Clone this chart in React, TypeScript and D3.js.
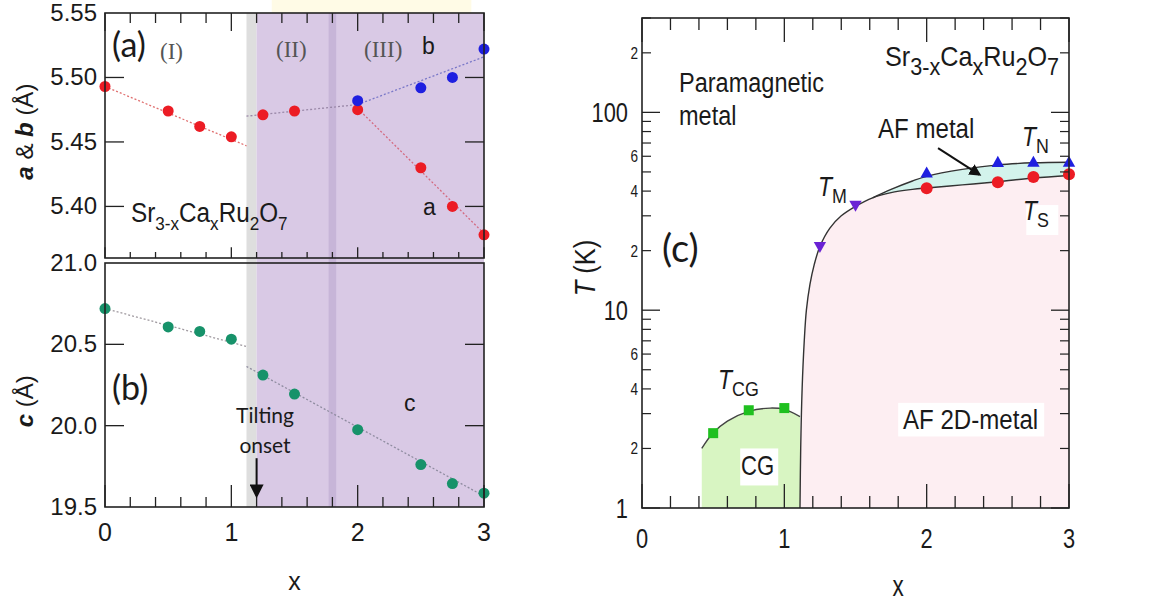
import React from "react";
import * as d3 from "d3";

const W = 1157;
const H = 605;
const SANS = "'Liberation Sans', Arial, Helvetica, sans-serif";
const CAL = "Lato, 'Open Sans', sans-serif";
const SERIF = "'Liberation Serif', 'Times New Roman', serif";

// ---- Lattice parameters of Sr3-xCaxRu2O7 ----
const xLat = [0, 0.5, 0.75, 1, 1.25, 1.5, 2, 2.5, 2.75, 3];
const aVals = [5.493, 5.474, 5.462, 5.454, 5.471, 5.474, 5.475, 5.43, 5.4, 5.378];
const xB = [2, 2.5, 2.75, 3];
const bVals = [5.482, 5.492, 5.5, 5.522];
const cVals = [20.72, 20.607, 20.579, 20.532, 20.311, 20.194, 19.975, 19.761, 19.644, 19.585];

// dotted guide lines [x, value]
const abGuideLow: [number, number][] = [[0, 5.493], [1.12, 5.447]];
const abGuideMid: [number, number][] = [[1.12, 5.47], [2, 5.479]];
const bGuide: [number, number][] = [[2, 5.479], [3, 5.516]];
const aGuide: [number, number][] = [[2, 5.476], [3, 5.379]];
const cGuideLow: [number, number][] = [[0, 20.72], [1.12, 20.487]];
const cGuideHigh: [number, number][] = [[1.12, 20.364], [3, 19.567]];

// structural regions along x
const tiltGap = [1.12, 1.2];
const tiltedRegion = [1.2, 3];
const regionBoundary = [1.77, 1.83];

// ---- Phase diagram ----
const xTN = [2, 2.5, 2.75, 3];
const tN = [49.4, 55.9, 56, 56];
const xTS = [2, 2.5, 2.75, 3];
const tS = [41.3, 44.3, 47.1, 48.6];
const xTM = [1.25, 1.5];
const tM = [21, 33.9];
const xTCG = [0.5, 0.75, 1.0];
const tCG = [2.39, 3.12, 3.2];

// phase boundaries [x, T]
const tmBoundary: [number, number][] = [
  [1.11, 1], [1.115, 2], [1.125, 4], [1.14, 7], [1.155, 10], [1.18, 13.5], [1.21, 17],
  [1.25, 21], [1.32, 26], [1.4, 30], [1.5, 33.5], [1.62, 37], [1.75, 39.3], [1.9, 40.8],
  [2, 41.5], [2.25, 43], [2.5, 44.6], [2.75, 46.6], [3, 48],
];
const tnBoundary: [number, number][] = [
  [1.62, 37], [1.75, 40.8], [1.9, 45], [2, 47.5], [2.25, 51.5], [2.5, 54.3], [2.75, 55.6], [3, 56],
];
const cgBoundary: [number, number][] = [
  [0.42, 2.0], [0.5, 2.4], [0.6, 2.75], [0.75, 3.08], [0.9, 3.2], [1.0, 3.15], [1.11, 2.9],
];

const COL_RED = "#ec1c24";
const COL_BLUE = "#1f1fe0";
const COL_TEAL = "#17926a";
const COL_GREEN = "#1fc01f";
const COL_PURPLE = "#6a22d4";

// scales, left panels
const xL = d3.scaleLinear().domain([0, 3]).range([105, 484]);
const yA = d3.scaleLinear().domain([5.36, 5.55]).range([258, 13]);
const yC = d3.scaleLinear().domain([19.5, 21.0]).range([507, 263]);
// scales, right panel
const xR = d3.scaleLinear().domain([0, 3]).range([642, 1069]);
const yT = d3.scaleLog().domain([1, 300]).range([508, 18]);

const xTicks = d3.range(0, 3.001, 0.2).map((v) => +v.toFixed(2));
const isInt = (v: number) => Math.abs(v - Math.round(v)) < 1e-6;

function Label({ x, y, size, children, anchor = "start", sx = 1, family = SANS, fill = "#1a1a1a", italic = false, weight = "normal" }: any) {
  return (
    <text transform={`translate(${x},${y}) scale(${sx},1)`} fontSize={size} fontFamily={family} textAnchor={anchor} fill={fill}
      fontStyle={italic ? "italic" : "normal"} fontWeight={weight}>
      {children}
    </text>
  );
}

function Formula({ x, y, size, sub, drop, sx = 1 }: any) {
  return (
    <text transform={`translate(${x},${y}) scale(${sx},1)`} fontSize={size} fontFamily={SANS} fill="#1a1a1a">
      Sr<tspan fontSize={sub} dy={drop}>3-x</tspan>
      <tspan dy={-drop}>Ca</tspan><tspan fontSize={sub} dy={drop}>x</tspan>
      <tspan dy={-drop}>Ru</tspan><tspan fontSize={sub} dy={drop}>2</tspan>
      <tspan dy={-drop}>O</tspan><tspan fontSize={sub} dy={drop}>7</tspan>
    </text>
  );
}

function Sym({ x, y, sub }: any) {
  return (
    <text transform={`translate(${x},${y}) scale(0.85,1)`} fontSize={27} fontFamily={SANS} fill="#1a1a1a">
      <tspan fontStyle="italic">T</tspan><tspan fontSize={21} dy={7}>{sub}</tspan>
    </text>
  );
}

function LatticePanels() {
  const lineA = d3.line<[number, number]>().x((d) => xL(d[0])).y((d) => yA(d[1]));
  const lineC = d3.line<[number, number]>().x((d) => xL(d[0])).y((d) => yC(d[1]));
  const top = yA.range()[1];
  const bottom = yC.range()[0];
  const aBottom = yA.range()[0];
  const cTop = yC.range()[1];
  const left = xL.range()[0];
  const right = xL.range()[1];
  const dotted = { fill: "none", strokeWidth: 1.3, strokeDasharray: "2,2" };

  return (
    <g>
      {/* faint band above the frame */}
      <rect x={xL(1.32)} y={0} width={xL(2.9) - xL(1.32)} height={top} fill="#fffbe6" />
      {/* structural regions */}
      <rect x={xL(tiltGap[0])} y={top} width={xL(tiltGap[1]) - xL(tiltGap[0])} height={bottom - top} fill="#dedede" />
      <rect x={xL(tiltedRegion[0])} y={top} width={xL(tiltedRegion[1]) - xL(tiltedRegion[0])} height={bottom - top} fill="#d9c9e5" />
      <rect x={xL(regionBoundary[0])} y={top} width={xL(regionBoundary[1]) - xL(regionBoundary[0])} height={bottom - top} fill="#c7b5d8" />

      {/* guides */}
      <path d={lineA(abGuideLow)!} stroke="#e07070" {...dotted} />
      <path d={lineA(abGuideMid)!} stroke="#9a88a8" {...dotted} />
      <path d={lineA(bGuide)!} stroke="#7a78c8" {...dotted} />
      <path d={lineA(aGuide)!} stroke="#d46a80" {...dotted} />
      <path d={lineC(cGuideLow)!} stroke="#a09aa0" {...dotted} />
      <path d={lineC(cGuideHigh)!} stroke="#8f8ca0" {...dotted} />

      {/* data */}
      {xLat.map((x, i) => <circle key={"a" + i} cx={xL(x)} cy={yA(aVals[i])} r={5.5} fill={COL_RED} />)}
      {xB.map((x, i) => <circle key={"b" + i} cx={xL(x)} cy={yA(bVals[i])} r={5.5} fill={COL_BLUE} />)}
      {xLat.map((x, i) => <circle key={"c" + i} cx={xL(x)} cy={yC(cVals[i])} r={5.5} fill={COL_TEAL} />)}

      {/* frames */}
      <rect x={left} y={top} width={right - left} height={aBottom - top} fill="none" stroke="#222" strokeWidth={1.6} />
      <rect x={left} y={cTop} width={right - left} height={bottom - cTop} fill="none" stroke="#222" strokeWidth={1.6} />

      {/* x ticks */}
      {xTicks.map((v) => {
        const len = isInt(v) ? 18 : 10;
        const x = xL(v);
        return (
          <g key={"xt" + v} stroke="#222" strokeWidth={1.3}>
            <line x1={x} x2={x} y1={top} y2={top + len} />
            <line x1={x} x2={x} y1={aBottom} y2={aBottom - len * 0.6} />
            <line x1={x} x2={x} y1={bottom} y2={bottom - (isInt(v) ? 22 : 10)} />
          </g>
        );
      })}
      {/* y ticks */}
      {[5.5, 5.45, 5.4].map((v) => (
        <g key={"ya" + v} stroke="#222" strokeWidth={1.3}>
          <line x1={left} x2={left + 19} y1={yA(v)} y2={yA(v)} />
          <line x1={right} x2={right - 19} y1={yA(v)} y2={yA(v)} />
        </g>
      ))}
      {[20.5, 20.0].map((v) => (
        <g key={"yc" + v} stroke="#222" strokeWidth={1.3}>
          <line x1={left} x2={left + 19} y1={yC(v)} y2={yC(v)} />
          <line x1={right} x2={right - 19} y1={yC(v)} y2={yC(v)} />
        </g>
      ))}

      {/* tick labels */}
      {[5.55, 5.5, 5.45, 5.4].map((v) => (
        <Label key={"la" + v} x={97} y={yA(v) + 8} size={24} anchor="end">{v.toFixed(2)}</Label>
      ))}
      {[21.0, 20.5, 20.0, 19.5].map((v) => (
        <Label key={"lc" + v} x={97} y={yC(v) + 8} size={24} anchor="end">{v.toFixed(1)}</Label>
      ))}
      {[0, 1, 2, 3].map((v) => (
        <Label key={"lx" + v} x={xL(v)} y={541} size={25} anchor="middle">{v}</Label>
      ))}
      <Label x={xL(1.5)} y={590} size={25} anchor="middle">x</Label>

      {/* axis titles */}
      <text transform={`translate(${33},${yA(5.458)}) rotate(-90)`} fontSize={24} fontFamily={SANS} textAnchor="middle" fill="#1a1a1a">
        <tspan fontWeight="bold" fontStyle="italic">a</tspan> &amp; <tspan fontWeight="bold" fontStyle="italic">b</tspan> (Å)
      </text>
      <text transform={`translate(${33},${yC(20.15)}) rotate(-90)`} fontSize={24} fontFamily={SANS} textAnchor="middle" fill="#1a1a1a">
        <tspan fontWeight="bold" fontStyle="italic">c</tspan> (Å)
      </text>

      {/* annotations */}
      <Label x={112} y={57} size={34} family={CAL}>(a)</Label>
      <Label x={160} y={59} size={23} family={SERIF} fill="#555">(I)</Label>
      <Label x={276} y={57} size={23} family={SERIF} fill="#555">(II)</Label>
      <Label x={364} y={57} size={23} family={SERIF} fill="#555">(III)</Label>
      <Label x={422} y={54} size={23}>b</Label>
      <Label x={423} y={215} size={23}>a</Label>
      <Formula x={131} y={222} size={27} sub={19} drop={8} sx={0.9} />
      <Label x={112} y={400} size={34} family={CAL}>(b)</Label>
      <Label x={404} y={411} size={23}>c</Label>
      <Label x={265} y={423} size={21} family={CAL} anchor="middle">Tilting</Label>
      <Label x={265} y={453} size={21} family={CAL} anchor="middle">onset</Label>
      <defs>
        <marker id="arrowL" viewBox="0 0 10 10" refX={8} refY={5} markerWidth={7} markerHeight={7} orient="auto-start-reverse">
          <path d="M0,0 L10,5 L0,10 z" fill="#111" />
        </marker>
        <marker id="arrowR" viewBox="0 0 10 10" refX={8} refY={5} markerWidth={6} markerHeight={6} orient="auto-start-reverse">
          <path d="M0,0 L10,5 L0,10 z" fill="#111" />
        </marker>
      </defs>
      <line x1={xL(1.2)} x2={xL(1.2)} y1={yC(19.8)} y2={yC(19.57)} stroke="#111" strokeWidth={2} markerEnd="url(#arrowL)" />
    </g>
  );
}

function PhasePanel() {
  const px = (d: [number, number]) => xR(d[0]);
  const py = (d: [number, number]) => yT(d[1]);
  const smooth = d3.line<[number, number]>().x(px).y(py).curve(d3.curveCatmullRom.alpha(0.5));
  const left = xR.range()[0];
  const right = xR.range()[1];
  const top = yT.range()[1];
  const bottom = yT.range()[0];

  const tsTail = tmBoundary.filter((d) => d[0] >= 1.62);
  const pinkPath = smooth(tmBoundary)! + `L${xR(3)},${yT(1)}L${xR(1.11)},${yT(1)}Z`;
  const greenPath = smooth(cgBoundary)! + `L${xR(1.11)},${yT(1)}L${xR(0.42)},${yT(1)}Z`;
  const cyanPath = smooth(tnBoundary)! + "L" + smooth(tsTail.slice().reverse())!.slice(1) + "Z";

  const logMinor: number[] = [];
  [1, 10, 100].forEach((dec) => {
    for (let k = 2; k <= 9; k++) if (dec * k <= 300) logMinor.push(dec * k);
  });

  const tri = (x: number, y: number, up: boolean, s = 6.5) =>
    up
      ? `M${x},${y - s}L${x + s * 0.95},${y + s * 0.7}L${x - s * 0.95},${y + s * 0.7}Z`
      : `M${x},${y + s}L${x + s * 0.95},${y - s * 0.7}L${x - s * 0.95},${y - s * 0.7}Z`;

  return (
    <g>
      <defs>
        <clipPath id="phaseClip">
          <rect x={left} y={top} width={right - left} height={bottom - top} />
        </clipPath>
      </defs>
      <g clipPath="url(#phaseClip)">
        <path d={pinkPath} fill="#fdeef2" />
        <path d={cyanPath} fill="#d3f3ec" />
        <path d={greenPath} fill="#d8f5c2" />
        <path d={smooth(tmBoundary)!} fill="none" stroke="#333" strokeWidth={1.4} />
        <path d={smooth(tnBoundary)!} fill="none" stroke="#333" strokeWidth={1.4} />
        <path d={smooth(cgBoundary)!} fill="none" stroke="#444" strokeWidth={1.4} />
      </g>

      {/* label backgrounds */}
      <rect x={xR(2.7)} y={yT(34)} width={32} height={yT(24) - yT(34)} fill="#fff" />
      <rect x={xR(0.69)} y={yT(2.0)} width={38} height={yT(1.3) - yT(2.0)} fill="#fff" />
      <rect x={xR(1.8)} y={yT(3.4)} width={146} height={yT(2.3) - yT(3.4)} fill="#fff" />

      {/* markers */}
      {xTS.map((x, i) => <circle key={"ts" + i} cx={xR(x)} cy={yT(tS[i])} r={6} fill={COL_RED} />)}
      {xTN.map((x, i) => <path key={"tn" + i} d={tri(xR(x), yT(tN[i]), true)} fill={COL_BLUE} />)}
      {xTM.map((x, i) => <path key={"tm" + i} d={tri(xR(x), yT(tM[i]), false)} fill={COL_PURPLE} />)}
      {xTCG.map((x, i) => <rect key={"tc" + i} x={xR(x) - 5} y={yT(tCG[i]) - 5} width={10} height={10} fill={COL_GREEN} />)}

      {/* frame */}
      <rect x={left} y={top} width={right - left} height={bottom - top} fill="none" stroke="#222" strokeWidth={1.6} />

      {xTicks.map((v) => {
        const x = xR(v);
        const len = isInt(v) ? 24 : 12;
        return (
          <g key={"rx" + v} stroke="#222" strokeWidth={1.3}>
            <line x1={x} x2={x} y1={bottom} y2={bottom - len} />
            <line x1={x} x2={x} y1={top} y2={top + len} />
          </g>
        );
      })}
      {[1, 10, 100].map((v) => (
        <g key={"ry" + v} stroke="#222" strokeWidth={1.3}>
          <line x1={left} x2={left + 18} y1={yT(v)} y2={yT(v)} />
          <line x1={right} x2={right - 18} y1={yT(v)} y2={yT(v)} />
        </g>
      ))}
      {logMinor.map((v) => (
        <g key={"rm" + v} stroke="#222" strokeWidth={1.2}>
          <line x1={left} x2={left + 9} y1={yT(v)} y2={yT(v)} />
          <line x1={right} x2={right - 9} y1={yT(v)} y2={yT(v)} />
        </g>
      ))}

      {/* tick labels */}
      {[1, 10, 100].map((v) => (
        <Label key={"rl" + v} x={628} y={yT(v) + 10} size={28} sx={0.78} anchor="end">{v}</Label>
      ))}
      {[2, 4, 6, 20, 40, 60, 200].map((v) => (
        <Label key={"rs" + v} x={638} y={yT(v) + 6} size={17} sx={0.8} anchor="end">{String(v)[0]}</Label>
      ))}
      {[0, 1, 2, 3].map((v) => (
        <Label key={"rxl" + v} x={xR(v)} y={548} size={28} sx={0.78} anchor="middle">{v}</Label>
      ))}
      <Label x={xR(1.8)} y={596} size={30} sx={0.75} anchor="middle">x</Label>
      <text transform={`translate(${595},${268}) rotate(-90) scale(0.85,1)`} fontSize={30} fontFamily={SANS} textAnchor="middle" fill="#1a1a1a">
        <tspan fontStyle="italic">T</tspan> (K)
      </text>

      {/* annotations */}
      <Label x={679} y={92} size={28} sx={0.84}>Paramagnetic</Label>
      <Label x={679} y={125} size={28} sx={0.84}>metal</Label>
      <Formula x={885} y={66} size={28} sub={24} drop={9} sx={0.9} />
      <Label x={878} y={138} size={28} sx={0.86}>AF metal</Label>
      <line x1={xR(2.08)} y1={yT(66)} x2={xR(2.37)} y2={yT(48.5)} stroke="#111" strokeWidth={2} markerEnd="url(#arrowR)" />
      <Sym x={1022} y={146} sub="N" />
      <Sym x={818} y={196} sub="M" />
      <Sym x={1023} y={220} sub="S" />
      <Label x={662} y={262} size={38} family={CAL}>(c)</Label>
      <Sym x={718} y={389} sub="CG" />
      <Label x={741} y={475} size={27} sx={0.82}>CG</Label>
      <Label x={903} y={429} size={28} sx={0.86}>AF 2D-metal</Label>
    </g>
  );
}

export default function App() {
  return (
    <svg width={W} height={H} viewBox={`0 0 ${W} ${H}`} style={{ position: "absolute", left: 0, top: 0, background: "#fff" }}>
      <rect width={W} height={H} fill="#fff" />
      <LatticePanels />
      <PhasePanel />
    </svg>
  );
}
